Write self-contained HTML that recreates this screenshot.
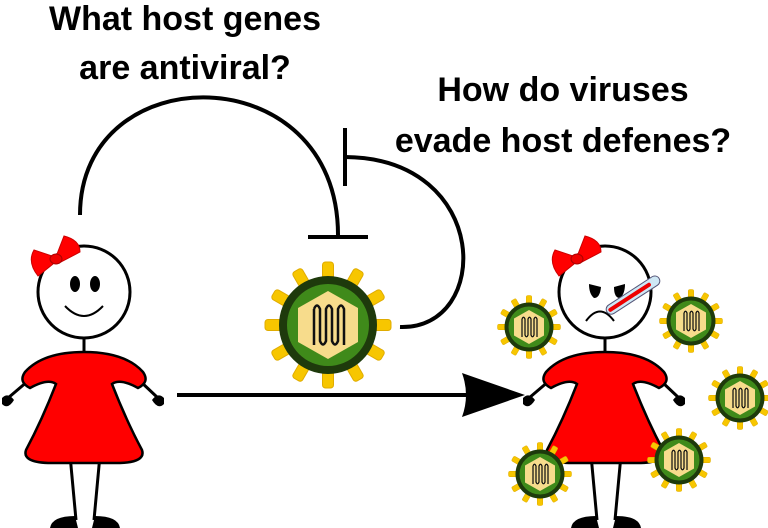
<!DOCTYPE html>
<html><head><style>
html,body{margin:0;padding:0;background:#fff;}
svg{display:block;}
text{font-family:"Liberation Sans",sans-serif;font-weight:bold;font-size:34px;fill:#000;text-anchor:middle;}
</style></head><body>
<svg width="768" height="528" viewBox="0 0 768 528" xmlns="http://www.w3.org/2000/svg">
<defs>
<g id="virus">
 <g fill="#f7c600" stroke="#e0ac00" stroke-width="1">
  <g id="sp"><rect x="-5.5" y="-63" width="11" height="20" rx="3"/></g>
  <use href="#sp" transform="rotate(30)"/><use href="#sp" transform="rotate(60)"/><use href="#sp" transform="rotate(90)"/>
  <use href="#sp" transform="rotate(120)"/><use href="#sp" transform="rotate(150)"/><use href="#sp" transform="rotate(180)"/>
  <use href="#sp" transform="rotate(210)"/><use href="#sp" transform="rotate(240)"/><use href="#sp" transform="rotate(270)"/>
  <use href="#sp" transform="rotate(300)"/><use href="#sp" transform="rotate(330)"/>
 </g>
 <circle r="49" fill="#1e3a0c"/>
 <circle r="41" fill="#3f8a1a"/>
 <polygon points="0,-34 30,-17 30,17 0,34 -30,17 -30,-17" fill="#f7dc8c"/>
 <path d="M-14,-16 L-14,20 M-14,-16 Q-11,-23 -8,-16 L-8,16 Q-5,23 -2,16 L-2,-16 Q1,-23 4,-16 L4,16 Q7,23 10,16 L10,-16 Q13,-23 16,-16 L16,20" fill="none" stroke="#111" stroke-width="2.5"/>
</g>
<g id="girl">
 <line x1="84" y1="338" x2="84" y2="356" stroke="#000" stroke-width="3"/>
 <line x1="70" y1="455" x2="76" y2="520" stroke="#000" stroke-width="3"/>
 <line x1="100" y1="455" x2="94" y2="520" stroke="#000" stroke-width="3"/>
 <path d="M50,528 Q52,516 75,516 L78,528 Z M92,528 L95,516 Q118,516 120,528 Z" fill="#000"/>
 <line x1="28" y1="381" x2="8" y2="398" stroke="#000" stroke-width="3"/>
 <line x1="140" y1="381" x2="158" y2="398" stroke="#000" stroke-width="3"/>
 <path d="M2,398 Q8,392 14,400 Q8,410 2,404 Z M152,400 Q158,392 164,398 L164,404 Q158,410 152,400 Z" fill="#000"/>
 <path d="M84,352 Q125,352 143,372 Q150,382 138,388 Q120,378 112,384 Q126,420 142,450 Q146,462 120,463 L48,463 Q22,462 26,450 Q42,420 56,384 Q48,378 30,388 Q18,382 25,372 Q43,352 84,352 Z" fill="#f00" stroke="#000" stroke-width="2.5"/>
 <circle cx="84" cy="292" r="46" fill="#fff" stroke="#000" stroke-width="3"/>
 <path d="M52,256 L34,250 Q27,262 38,276 L53,264 Z M57,254 L64,236 Q80,240 80,252 L61,262 Z" fill="#f00" stroke="#c00" stroke-width="1"/>
 <ellipse cx="56" cy="259" rx="6" ry="5" fill="#e00" stroke="#a00" stroke-width="1"/>
</g>
</defs>

<text x="185" y="30">What host genes</text>
<text x="185" y="79">are antiviral?</text>
<text x="563" y="101">How do viruses</text>
<text x="563" y="152">evade host defenes?</text>

<path d="M80,215 C80,55 338,55 338,235" fill="none" stroke="#000" stroke-width="4"/>
<line x1="308" y1="237" x2="368" y2="237" stroke="#000" stroke-width="4"/>
<path d="M400,327 C492,330 492,158 345,157" fill="none" stroke="#000" stroke-width="4"/>
<line x1="345" y1="128" x2="345" y2="186" stroke="#000" stroke-width="4"/>

<line x1="177" y1="395" x2="470" y2="395" stroke="#000" stroke-width="4"/>
<path d="M462,373 L525,395 L462,417 Q470,395 462,373 Z" fill="#000"/>

<use href="#virus" transform="translate(328,325)"/>

<use href="#girl"/>
<ellipse cx="75" cy="284" rx="5" ry="8" fill="#000"/>
<ellipse cx="95" cy="284" rx="5" ry="8" fill="#000"/>
<path d="M65,306 Q84,326 103,306" fill="none" stroke="#000" stroke-width="2"/>

<use href="#girl" transform="translate(521,0)"/>
<path d="M589,284 L601,287 Q600,298 594,298 Q589,294 589,284 Z M614,287 L625,284 Q625,294 620,298 Q614,298 614,287 Z" fill="#000"/>
<path d="M586,321 Q600,302 614,321" fill="none" stroke="#000" stroke-width="2"/>
<g transform="translate(607,312) rotate(-33)">
 <rect x="0" y="-5" width="62" height="10" rx="5" fill="#cfe8f5" stroke="#557" stroke-width="1"/>
 <rect x="2" y="-2" width="50" height="4" rx="2" fill="#e00"/>
</g>

<use href="#virus" transform="translate(529,327) scale(0.5)"/>
<use href="#virus" transform="translate(691,321) scale(0.5)"/>
<use href="#virus" transform="translate(740,398) scale(0.5)"/>
<use href="#virus" transform="translate(540,474) scale(0.5)"/>
<use href="#virus" transform="translate(679,460) scale(0.5)"/>
</svg>
</body></html>
